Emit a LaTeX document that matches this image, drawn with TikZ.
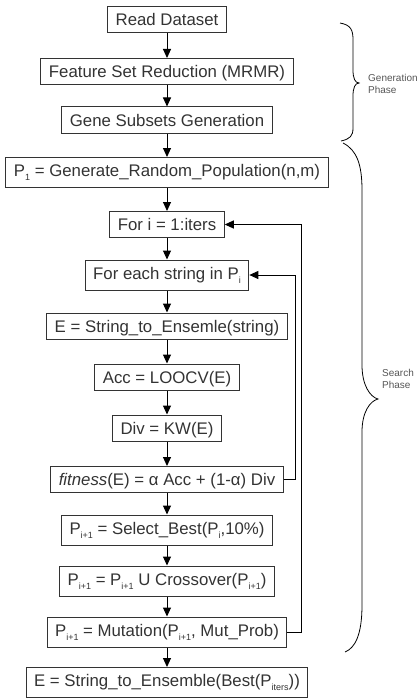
\documentclass[tikz,border=0pt]{standalone}
\usepackage{fontspec}
\setmainfont{Liberation Sans}
\usetikzlibrary{arrows.meta}
\definecolor{boxgray}{HTML}{333333}
\definecolor{phasegray}{HTML}{555555}
\newcommand{\sbs}[1]{\raisebox{-4pt}{\fontsize{9}{9}\selectfont #1}}

\begin{document}
\begin{tikzpicture}[x=1pt,y=-1pt,>={Triangle[length=9pt,width=8pt]},
  stepbox/.style={draw=boxgray,line width=1pt,text=boxgray,inner xsep=8pt,
    inner ysep=6.5pt,text height=12.5pt,text depth=0.5pt,
    font=\fontsize{16.8}{20}\selectfont},
  tallbox/.style={stepbox,text depth=4.5pt},
  link/.style={->,line width=1pt},
  brace/.style={line width=0.8pt},
  phase/.style={text=phasegray,font=\fontsize{10}{12.5}\selectfont,
    align=left,anchor=west,inner sep=0pt}]
\useasboundingbox (0,0) rectangle (419,698);

\node[stepbox] (read) at (167,20) {Read Dataset};
\node[stepbox] (mrmr) at (167,71.5) {Feature Set Reduction (MRMR)};
\node[stepbox] (gene) at (167,120) {Gene Subsets Generation};
\node[tallbox] (pop) at (167,172.5) {P\sbs{1} = Generate\_Random\_Population(n,m)};
\node[stepbox] (fori) at (167,224.5) {For i = 1:iters};
\node[tallbox] (each) at (167,275) {For each string in P\sbs{i}};
\node[stepbox] (ens) at (167,326) {E = String\_to\_Ensemle(string)};
\node[stepbox] (acc) at (167,377) {Acc = LOOCV(E)};
\node[stepbox] (div) at (167,428) {Div = KW(E)};
\node[stepbox] (fit) at (167,479.5) {\textit{fitness}(E) = α Acc + (1-α) Div};
\node[tallbox] (sel) at (167,530) {P\sbs{i+1} = Select\_Best(P\sbs{i},10\%)};
\node[tallbox] (cross) at (167,581) {P\sbs{i+1} = P\sbs{i+1} U Crossover(P\sbs{i+1})};
\node[tallbox] (mut) at (167,632) {P\sbs{i+1} = Mutation(P\sbs{i+1}, Mut\_Prob)};
\node[tallbox] (best) at (167,682.5) {E = String\_to\_Ensemble(Best(P\sbs{iters}))};

\draw[link] (read) -- (mrmr);
\draw[link] (mrmr) -- (gene);
\draw[link] (gene) -- (pop);
\draw[link] (pop) -- (fori);
\draw[link] (fori) -- (each);
\draw[link] (each) -- (ens);
\draw[link] (ens) -- (acc);
\draw[link] (acc) -- (div);
\draw[link] (div) -- (fit);
\draw[link] (fit) -- (sel);
\draw[link] (sel) -- (cross);
\draw[link] (cross) -- (mut);
\draw[link] (mut) -- (best);

% loops back
\coordinate (innerloop) at (295,0);
\coordinate (outerloop) at (301,0);
\draw[link] (fit.east) -- (fit.east -| innerloop) |- (each.east);
\draw[link] (mut.east) -- (mut.east -| outerloop) |- (fori.east);

% phases
\draw[brace] (340,23) .. controls (351,25) and (353,30) .. (353,40) -- (353,70)
  .. controls (353,78) and (355,83) .. (359,83)
  .. controls (355,83) and (353,88) .. (353,96) -- (353,128)
  .. controls (353,136) and (350,139) .. (341,141);
\draw[brace] (343,143) .. controls (357,150) and (362,165) .. (362,190) -- (362,365)
  .. controls (362,385) and (370,397) .. (378,399)
  .. controls (370,401) and (362,412) .. (362,432) -- (362,605)
  .. controls (362,635) and (355,648) .. (345,652);
\node[phase] (genphase) at (368,84) {Generation\\Phase};
\node[phase] (searchphase) at (382,379) {Search\\Phase};
\end{tikzpicture}
\end{document}
